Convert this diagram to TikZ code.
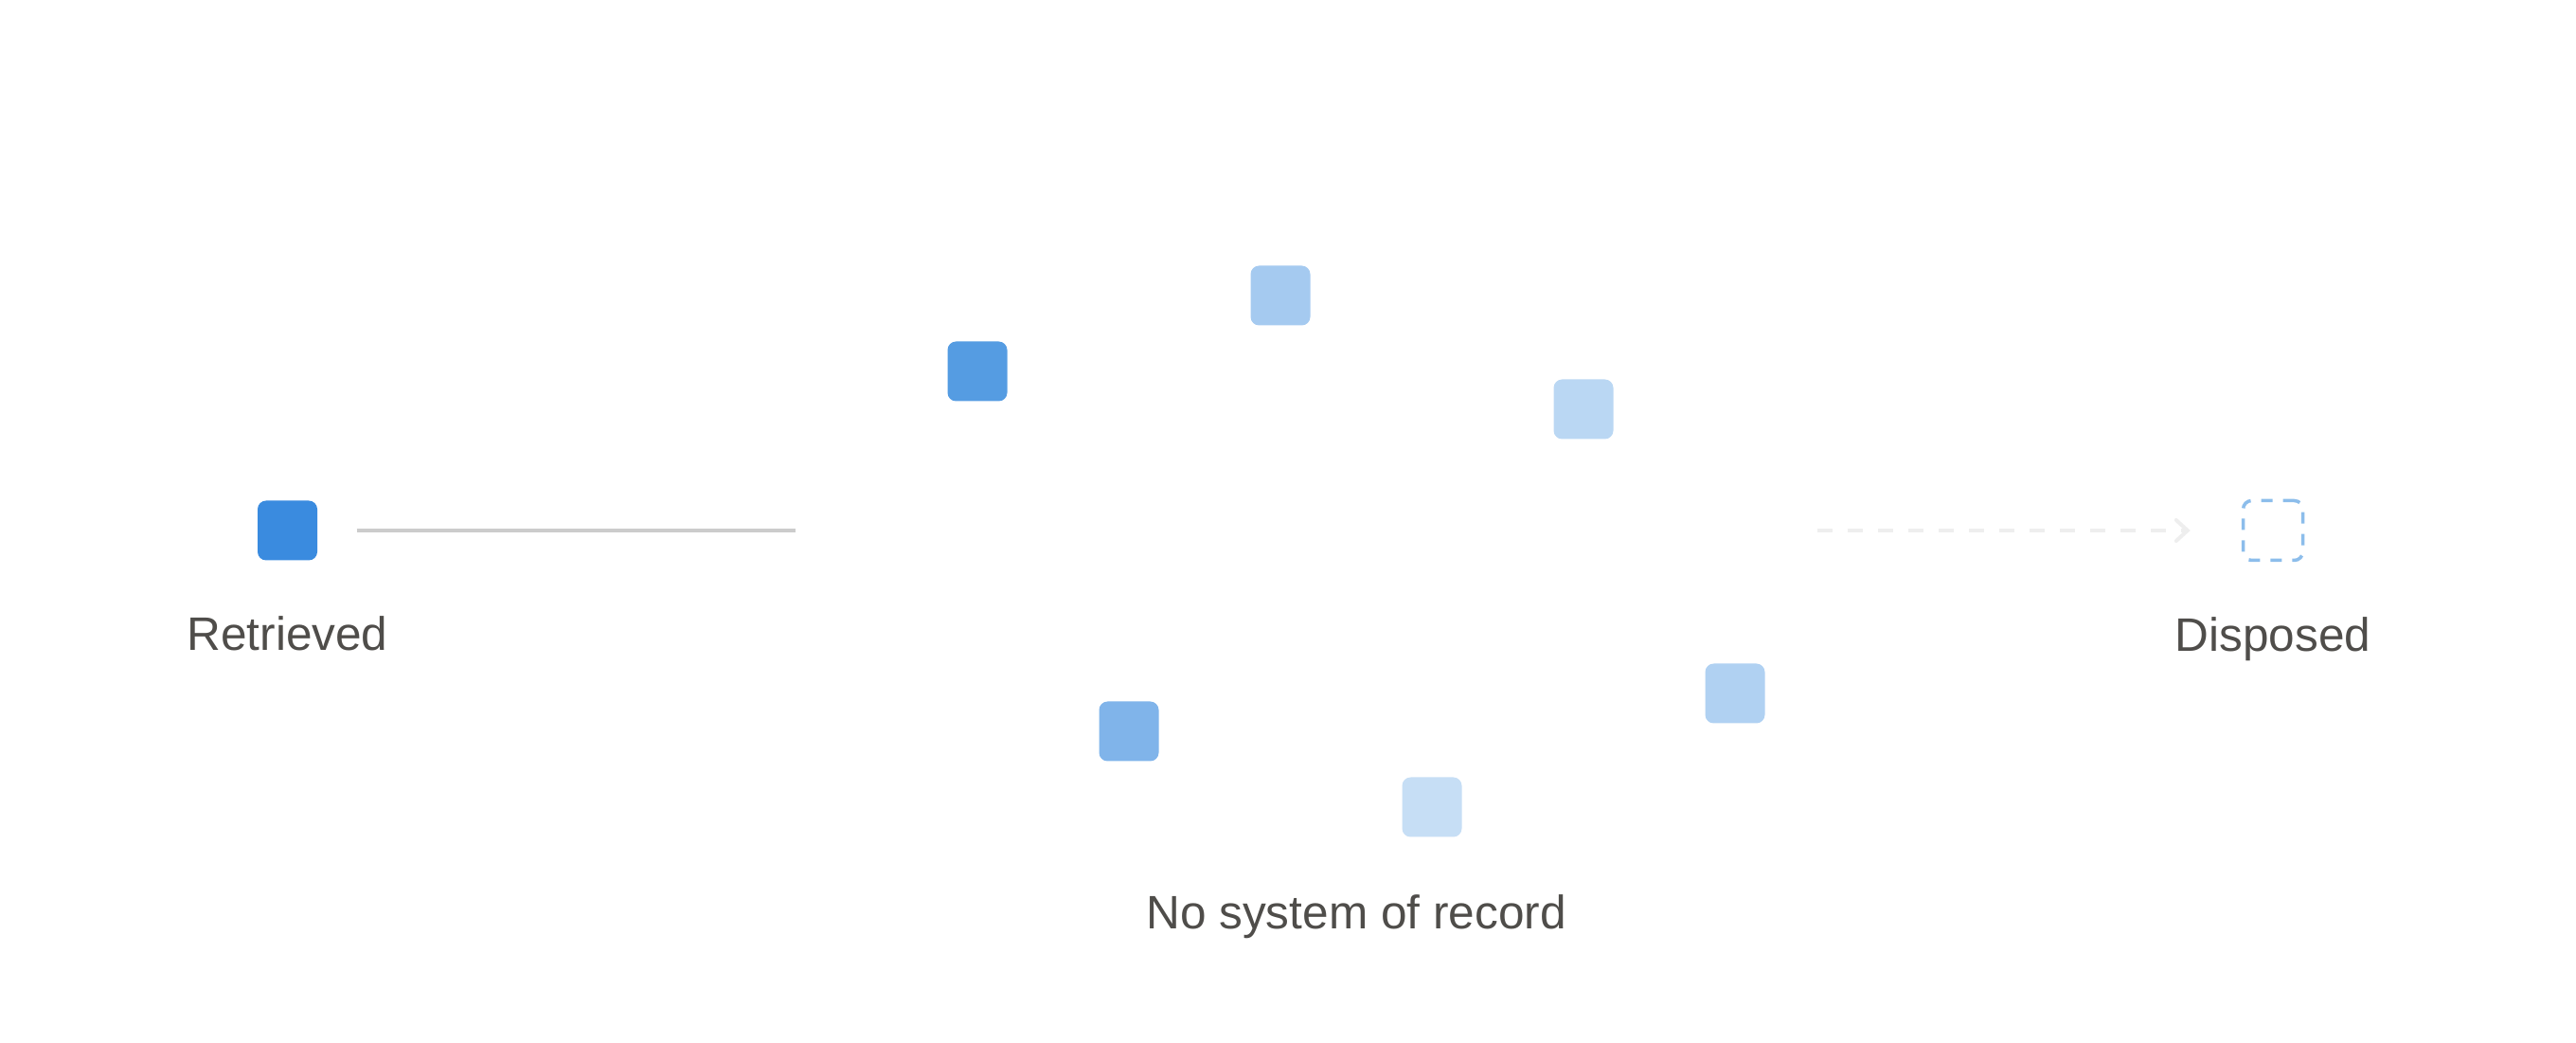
\documentclass[tikz,border=0pt]{standalone}
\usepackage{fontspec}
\setmainfont{Liberation Sans}
\usetikzlibrary{arrows.meta,positioning}
\definecolor{txtgray}{HTML}{4F4D4A}
\definecolor{linegray}{HTML}{CCCCCC}
\definecolor{arrowgray}{HTML}{EEEEEE}
\definecolor{disposeblue}{HTML}{8CBDEB}
\begin{document}
\begin{tikzpicture}[
	doc/.style = {rectangle, minimum size = 0.63cm, inner sep = 0pt, rounded corners = 0.09cm},
	lbl/.style = {text = txtgray, font = \fontsize{14.1pt}{16pt}\selectfont, anchor = base, inner sep = 0pt}
	]

	\useasboundingbox (0,0) rectangle (27.2,11);

	% start and end of the life cycle
	\node[doc, fill = {rgb,255:red,58;green,139;blue,223}] (ret) at (3.035,5.40) {};
	\node[doc, draw = disposeblue, line width = 0.035cm, dash pattern = on 0.12cm off 0.11cm, minimum size = 0.63cm] (disp) at (24.00,5.40) {};

	\node[lbl] (retlbl) at ([yshift=-1.27cm]ret.center) {Retrieved};
	\node[lbl] (displbl) at ([yshift=-1.28cm]disp.center) {Disposed};

	% copies without a system of record
	\foreach \name/\x/\y/\r/\g/\b in {a/10.32/7.08/85/156/226, b/13.52/7.88/165/202/240, c/16.72/6.68/186/215/243,
		d/11.92/3.28/128/180/234, e/15.12/2.48/198/222/245, f/18.32/3.68/176/209/242}
		\node[doc, fill = {rgb,255:red,\r;green,\g;blue,\b}] (sq\name) at (\x,\y) {};

	\node[lbl] (nosor) at (14.32,1.20) {No system of record};

	% connectors
	\coordinate (lineend) at (8.40,5.40);
	\coordinate (arrowstart) at (19.19,5.40);
	\draw[linegray, line width = 0.04cm, shorten <= 0.41cm] (ret.east) -- (lineend);
	\draw[arrowgray, line width = 0.04cm, dash pattern = on 0.16cm off 0.16cm,
		-{Straight Barb[length=0.12cm, width=0.22cm, line cap=round]}, shorten >= 0.54cm] (arrowstart) -- (disp.west);

\end{tikzpicture}
\end{document}
